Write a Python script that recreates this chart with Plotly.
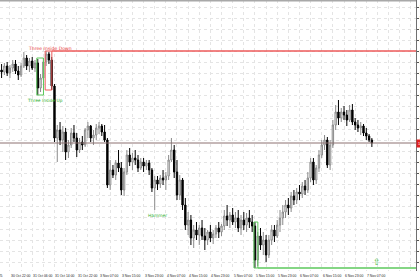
import plotly.graph_objects as go

# ---- data (H1 bars, index 0..133) ----
opens = [1.1537,1.1535,1.1541,1.1534,1.1539,1.1543,1.1536,1.1532,1.1541,1.1549,
         1.1541,1.1546,1.1539,1.1544,1.1519,1.1529,1.1545,1.1553,1.1547,1.1521,
         1.1469,1.1477,1.1467,1.1475,1.1455,1.1462,1.1474,1.1469,1.1457,1.1465,
         1.1462,1.1477,1.1481,1.1469,1.1472,1.1479,1.1481,1.1475,1.1467,1.1422,
         1.1437,1.1432,1.1444,1.1439,1.1417,1.1435,1.1452,1.1445,1.1449,1.1447,
         1.1439,1.1445,1.1441,1.1444,1.1437,1.1419,1.1427,1.1423,1.1429,1.1427,
         1.1431,1.1447,1.1457,1.1435,1.1412,1.1427,1.1402,1.1382,1.1387,1.1369,
         1.1377,1.1372,1.1379,1.1371,1.1367,1.1375,1.1369,1.1373,1.1379,1.1375,
         1.1381,1.1391,1.1387,1.1392,1.1385,1.1389,1.1379,1.1387,1.1382,1.1389,
         1.1385,1.1381,1.1347,1.1371,1.1362,1.1367,1.1352,1.1367,1.1377,1.1371,
         1.1382,1.1389,1.1395,1.1402,1.1399,1.1411,1.1407,1.1415,1.1413,1.1421,
         1.1417,1.1429,1.1445,1.1427,1.1439,1.1452,1.1462,1.1467,1.1442,1.1462,
         1.1482,1.1495,1.1489,1.1495,1.1492,1.1487,1.1497,1.1485,1.1482,1.1479,
         1.1481,1.1474,1.1471,1.1467]
highs = [1.1543,1.1544,1.1545,1.1542,1.1547,1.1547,1.1541,1.1544,1.1555,1.1552,
         1.1549,1.1550,1.1547,1.1548,1.1533,1.1549,1.1556,1.1555,1.1550,1.1523,
         1.1482,1.1485,1.1481,1.1479,1.1467,1.1479,1.1482,1.1474,1.1469,1.1471,
         1.1479,1.1485,1.1482,1.1477,1.1483,1.1485,1.1483,1.1482,1.1469,1.1447,
         1.1442,1.1447,1.1457,1.1445,1.1439,1.1457,1.1459,1.1454,1.1457,1.1452,
         1.1449,1.1449,1.1447,1.1447,1.1439,1.1431,1.1431,1.1432,1.1437,1.1435,
         1.1452,1.1469,1.1462,1.1447,1.1432,1.1429,1.1409,1.1395,1.1392,1.1382,
         1.1385,1.1382,1.1387,1.1379,1.1377,1.1382,1.1377,1.1382,1.1385,1.1383,
         1.1397,1.1402,1.1395,1.1399,1.1395,1.1397,1.1392,1.1395,1.1394,1.1397,
         1.1392,1.1385,1.1375,1.1379,1.1375,1.1372,1.1372,1.1382,1.1382,1.1387,
         1.1397,1.1402,1.1407,1.1409,1.1415,1.1417,1.1419,1.1422,1.1425,1.1427,
         1.1435,1.1449,1.1449,1.1442,1.1457,1.1467,1.1472,1.1470,1.1467,1.1487,
         1.1502,1.1507,1.1499,1.1501,1.1497,1.1502,1.1503,1.1489,1.1487,1.1485,
         1.1483,1.1479,1.1473,1.1469]
lows = [1.1529,1.1532,1.1531,1.1529,1.1535,1.1533,1.1527,1.1530,1.1539,1.1537,
        1.1535,1.1537,1.1535,1.1512,1.1515,1.1527,1.1541,1.1543,1.1517,1.1465,
        1.1445,1.1462,1.1455,1.1447,1.1449,1.1459,1.1465,1.1450,1.1454,1.1457,
        1.1460,1.1469,1.1465,1.1462,1.1467,1.1473,1.1471,1.1465,1.1419,1.1417,
        1.1429,1.1427,1.1435,1.1412,1.1411,1.1432,1.1441,1.1437,1.1442,1.1435,
        1.1437,1.1435,1.1437,1.1432,1.1415,1.1397,1.1417,1.1419,1.1422,1.1417,
        1.1427,1.1445,1.1429,1.1407,1.1407,1.1397,1.1377,1.1372,1.1362,1.1359,
        1.1367,1.1362,1.1367,1.1357,1.1362,1.1365,1.1363,1.1369,1.1369,1.1371,
        1.1377,1.1381,1.1379,1.1382,1.1379,1.1375,1.1372,1.1377,1.1375,1.1379,
        1.1375,1.1339,1.1341,1.1357,1.1352,1.1345,1.1349,1.1362,1.1365,1.1369,
        1.1375,1.1382,1.1389,1.1392,1.1395,1.1402,1.1403,1.1407,1.1409,1.1412,
        1.1414,1.1425,1.1422,1.1423,1.1435,1.1449,1.1457,1.1439,1.1437,1.1459,
        1.1477,1.1482,1.1485,1.1487,1.1481,1.1485,1.1482,1.1477,1.1475,1.1472,
        1.1471,1.1467,1.1465,1.1460]
closes = [1.1535,1.1541,1.1534,1.1539,1.1543,1.1536,1.1532,1.1541,1.1549,1.1541,
          1.1546,1.1539,1.1544,1.1519,1.1529,1.1545,1.1553,1.1547,1.1521,1.1469,
          1.1477,1.1467,1.1475,1.1455,1.1462,1.1474,1.1469,1.1457,1.1465,1.1462,
          1.1477,1.1481,1.1469,1.1472,1.1479,1.1481,1.1475,1.1467,1.1422,1.1437,
          1.1432,1.1444,1.1439,1.1417,1.1435,1.1452,1.1445,1.1449,1.1447,1.1439,
          1.1445,1.1441,1.1444,1.1437,1.1419,1.1427,1.1423,1.1429,1.1427,1.1431,
          1.1447,1.1457,1.1435,1.1412,1.1427,1.1402,1.1382,1.1387,1.1369,1.1377,
          1.1372,1.1379,1.1371,1.1367,1.1375,1.1369,1.1373,1.1379,1.1375,1.1381,
          1.1391,1.1387,1.1392,1.1385,1.1389,1.1379,1.1387,1.1382,1.1389,1.1385,
          1.1381,1.1347,1.1371,1.1362,1.1367,1.1352,1.1367,1.1377,1.1371,1.1382,
          1.1389,1.1395,1.1402,1.1399,1.1411,1.1407,1.1415,1.1413,1.1421,1.1417,
          1.1429,1.1445,1.1427,1.1439,1.1452,1.1462,1.1467,1.1442,1.1462,1.1482,
          1.1495,1.1489,1.1495,1.1492,1.1487,1.1497,1.1485,1.1482,1.1479,1.1481,
          1.1474,1.1471,1.1467,1.1464]
bars = list(range(len(closes)))

# time-axis labels (every 8 bars, grid every 4 bars)
time_labels = ["30 Oct 22:00", "31 Oct 06:00", "31 Oct 14:00", "31 Oct 22:00",
               "3 Nov 07:00", "3 Nov 15:00", "3 Nov 23:00", "4 Nov 07:00",
               "4 Nov 15:00", "4 Nov 23:00", "5 Nov 07:00", "5 Nov 15:00",
               "5 Nov 23:00", "6 Nov 07:00", "6 Nov 15:00", "6 Nov 23:00",
               "7 Nov 07:00"]
first_label = "30 Oct 2025"
label_start_bar = 3

# detected patterns: (name, first bar, last bar, kind)
patterns = [("Three Inside Up", 13, 15, "bull"),
            ("Three Inside Down", 16, 18, "bear"),
            ("Harami", 91, 92, "bull")]
hammer_bar = 55
arrow_bar = 135

XMIN, XMAX = -0.57, 148.85
YMIN, YMAX = 1.1336, 1.1607

grid_vals = [label_start_bar + 4 * k for k in range(37)]
label_vals = [label_start_bar + 8 * k for k in range(len(time_labels))]

RED = "#ee5a5a"
GREEN = "#5cc85c"
FONT = "DejaVu Sans"
AXFONT = "Liberation Sans Narrow, Liberation Sans, Arial"

fig = go.Figure()
fig.add_trace(go.Candlestick(
    x=bars, open=opens, high=highs, low=lows, close=closes,
    increasing=dict(line=dict(color="#8a8a8a", width=1), fillcolor="#ffffff"),
    decreasing=dict(line=dict(color="#000000", width=1), fillcolor="#000000"),
    whiskerwidth=0, hoverinfo="skip", showlegend=False))

shapes = []
annotations = []
for name, a, b, kind in patterns:
    top = max(highs[a:b + 1]); bot = min(lows[a:b + 1])
    col = GREEN if kind == "bull" else RED
    shapes.append(dict(type="rect", xref="x", yref="y", x0=a - 0.35, x1=b + 0.05,
                       y0=bot, y1=top, line=dict(color=col, width=1), fillcolor="rgba(0,0,0,0)"))
    level = bot if kind == "bull" else top
    if name != "Three Inside Up":
        shapes.append(dict(type="line", xref="x", yref="y", x0=b + 0.05, x1=XMAX,
                           y0=level, y1=level, line=dict(color=col, width=1.3)))
    if kind == "bear":
        annotations.append(dict(x=(a + b) / 2 + 0.5, y=top, xref="x", yref="y", text=name,
                                showarrow=False, yanchor="bottom", yshift=-2,
                                font=dict(size=4.6, color="#e83c3c", family=FONT)))
    elif name == "Three Inside Up":
        annotations.append(dict(x=(a + b) / 2 + 1.5, y=bot, xref="x", yref="y", text=name,
                                showarrow=False, yanchor="top", yshift=-1,
                                font=dict(size=4.4, color="#2fb02f", family=FONT)))

annotations.append(dict(x=hammer_bar + 1, y=lows[hammer_bar], xref="x", yref="y", text="Hammer",
                        showarrow=False, yanchor="top", yshift=-1,
                        font=dict(size=4.4, color="#2fb02f", family=FONT)))
annotations.append(dict(x=arrow_bar, y=YMIN, xref="x", yref="y", text="⇧",
                        showarrow=False, yanchor="bottom", yshift=2,
                        font=dict(size=9, color="#44bb44", family=FONT)))
# time labels, left-aligned at their grid line
for v, t in zip(label_vals, time_labels):
    annotations.append(dict(x=v, y=0, xref="x", yref="paper", text=t, showarrow=False,
                            xanchor="left", yanchor="top", xshift=-1, yshift=-1,
                            font=dict(size=3.4, color="#222", family=AXFONT)))
annotations.append(dict(x=0.012, y=0, xref="paper", yref="paper", text=first_label,
                        showarrow=False, xanchor="right", yanchor="top", yshift=-1,
                        font=dict(size=3.4, color="#222", family=AXFONT)))
# current price line and marker
shapes.append(dict(type="line", xref="paper", yref="y", x0=0, x1=1, y0=closes[-1], y1=closes[-1],
                   line=dict(color="#8c7070", width=1)))
annotations.append(dict(x=1, y=closes[-1], xref="paper", yref="y", text=f"{closes[-1]:.5f}",
                        showarrow=False, xanchor="left", bgcolor="#e02020", borderpad=1,
                        font=dict(size=4, color="white", family=AXFONT)))
# top frame
shapes.append(dict(type="line", xref="paper", yref="paper", x0=0, x1=1, y0=1, y1=1,
                   line=dict(color="#a8a8a8", width=3)))

fig.update_layout(
    width=420, height=280, margin=dict(l=0, r=4, t=0, b=9, autoexpand=False),
    paper_bgcolor="white", plot_bgcolor="white", showlegend=False,
    shapes=shapes, annotations=annotations, hovermode=False,
    xaxis=dict(range=[XMIN, XMAX], rangeslider=dict(visible=False), automargin=False,
               tickmode="array", tickvals=grid_vals, showticklabels=False,
               ticks="", showgrid=True, gridcolor="#e4e4e4", griddash="dot", gridwidth=1,
               showline=False, zeroline=False),
    yaxis=dict(range=[YMIN, YMAX], side="right", tick0=1.1600, dtick=0.00111, automargin=False,
               tickformat=".5f", tickfont=dict(size=3.4, color="#222", family=AXFONT),
               ticks="outside", ticklen=2, tickcolor="#555",
               showgrid=True, gridcolor="#e4e4e4", griddash="dot", gridwidth=1,
               showline=True, linecolor="#707070", linewidth=1, zeroline=False),
)

fig.write_html("out.html")
